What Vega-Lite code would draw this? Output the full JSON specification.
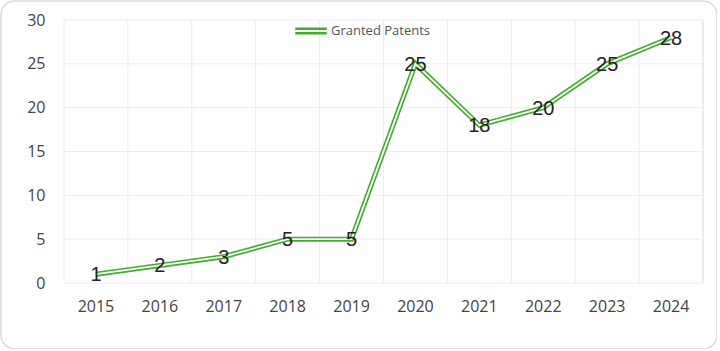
{
  "$schema": "https://vega.github.io/schema/vega-lite/v6.json",
  "autosize": "none",
  "width": 716,
  "height": 348,
  "padding": {"left": 1, "top": 1, "right": 0, "bottom": 0},
  "background": "white",
  "config": {
    "view": {"stroke": "#dcdcdc", "strokeWidth": 1.5, "cornerRadius": 14, "fill": "white"},
    "font": "Open Sans"
  },
  "datasets": {
    "patents": [
      {"year": "2015", "patents": 1, "series": "Granted Patents"},
      {"year": "2016", "patents": 2, "series": "Granted Patents"},
      {"year": "2017", "patents": 3, "series": "Granted Patents"},
      {"year": "2018", "patents": 5, "series": "Granted Patents"},
      {"year": "2019", "patents": 5, "series": "Granted Patents"},
      {"year": "2020", "patents": 25, "series": "Granted Patents"},
      {"year": "2021", "patents": 18, "series": "Granted Patents"},
      {"year": "2022", "patents": 20, "series": "Granted Patents"},
      {"year": "2023", "patents": 25, "series": "Granted Patents"},
      {"year": "2024", "patents": 28, "series": "Granted Patents"}
    ],
    "ygrid": [
      {"patents": 0}, {"patents": 5}, {"patents": 10}, {"patents": 15},
      {"patents": 20}, {"patents": 25}, {"patents": 30}
    ]
  },
  "data": {"name": "patents"},
  "encoding": {
    "x": {
      "field": "year",
      "type": "ordinal",
      "bandPosition": 0.5,
      "scale": {"type": "band", "paddingInner": 0, "paddingOuter": 0, "range": [63, 702]},
      "axis": {
        "title": null,
        "orient": "bottom",
        "offset": -66,
        "domain": false,
        "ticks": false,
        "grid": false,
        "labelAngle": 0,
        "labelPadding": 15,
        "labelFontSize": 16,
        "labelColor": "#444444",
        "labelFont": "Open Sans"
      }
    },
    "y": {
      "field": "patents",
      "type": "quantitative",
      "scale": {"domain": [0, 30], "range": [282, 19], "nice": false, "zero": true},
      "axis": {
        "title": null,
        "orient": "left",
        "offset": -63,
        "values": [0, 5, 10, 15, 20, 25, 30],
        "domain": false,
        "ticks": false,
        "grid": false,
        "labelPadding": 19,
        "labelFontSize": 16,
        "labelColor": "#444444",
        "labelFont": "Open Sans"
      }
    }
  },
  "layer": [
    {
      "data": {"name": "ygrid"},
      "mark": {"type": "rule", "color": "#ececec", "strokeWidth": 1},
      "encoding": {
        "x": {"datum": "2015", "bandPosition": 0},
        "x2": {"datum": "2024", "bandPosition": 1},
        "y": {"field": "patents", "type": "quantitative"}
      }
    },
    {
      "mark": {"type": "rule", "color": "#ececec", "strokeWidth": 1},
      "encoding": {
        "x": {"field": "year", "type": "ordinal", "bandPosition": 0},
        "y": {"datum": 0},
        "y2": {"datum": 30}
      }
    },
    {
      "mark": {"type": "rule", "color": "#ececec", "strokeWidth": 1},
      "encoding": {
        "x": {"datum": "2024", "bandPosition": 1},
        "y": {"datum": 0},
        "y2": {"datum": 30}
      }
    },
    {
      "mark": {"type": "line", "strokeWidth": 5, "clip": false},
      "encoding": {
        "color": {
          "field": "series",
          "type": "nominal",
          "scale": {"domain": ["Granted Patents"], "range": ["#40ad2a"]},
          "legend": {
            "title": null,
            "orient": "none",
            "legendX": 294,
            "legendY": 14,
            "direction": "horizontal",
            "symbolType": "M-1,-0.22H1V-0.06H-1Z M-1,0.06H1V0.22H-1Z",
            "symbolSize": 1000,
            "labelFontSize": 13,
            "labelColor": "#555555",
            "labelFont": "Open Sans",
            "labelOffset": 4,
            "encode": {
              "symbols": {"update": {"fill": {"value": "#40ad2a"}, "stroke": {"value": "transparent"}, "strokeWidth": {"value": 0}}}
            }
          }
        }
      }
    },
    {
      "mark": {"type": "line", "strokeWidth": 1.8, "color": "white", "clip": false},
      "encoding": {}
    },
    {
      "mark": {"type": "text", "fontSize": 20, "font": "Liberation Sans", "color": "#222222", "baseline": "middle", "align": "center", "dy": 1},
      "encoding": {"text": {"field": "patents", "type": "quantitative"}}
    }
  ]
}
